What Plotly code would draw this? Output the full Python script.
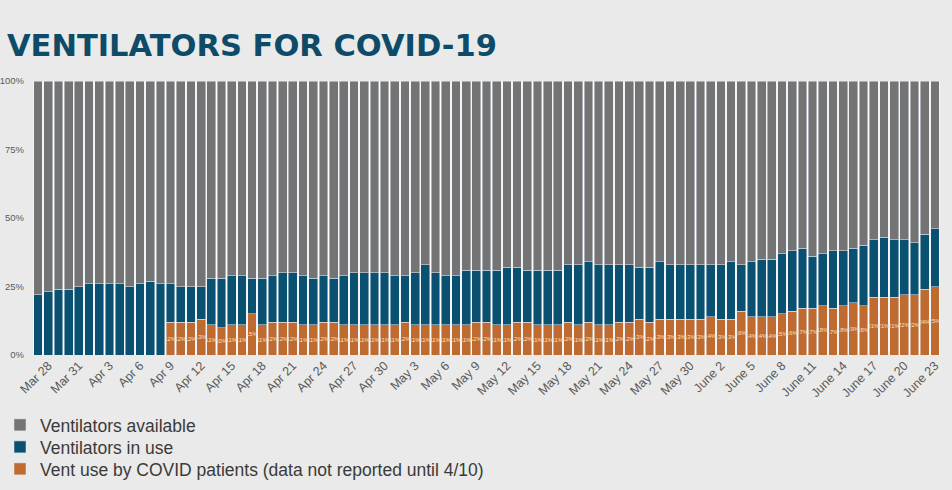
import plotly.graph_objects as go

dates = [
    "Mar 27", "Mar 28", "Mar 29", "Mar 30", "Mar 31",
    "Apr 1", "Apr 2", "Apr 3", "Apr 4", "Apr 5", "Apr 6", "Apr 7", "Apr 8", "Apr 9", "Apr 10",
    "Apr 11", "Apr 12", "Apr 13", "Apr 14", "Apr 15", "Apr 16", "Apr 17", "Apr 18", "Apr 19", "Apr 20",
    "Apr 21", "Apr 22", "Apr 23", "Apr 24", "Apr 25", "Apr 26", "Apr 27", "Apr 28", "Apr 29", "Apr 30",
    "May 1", "May 2", "May 3", "May 4", "May 5", "May 6", "May 7", "May 8", "May 9", "May 10",
    "May 11", "May 12", "May 13", "May 14", "May 15", "May 16", "May 17", "May 18", "May 19", "May 20",
    "May 21", "May 22", "May 23", "May 24", "May 25", "May 26", "May 27", "May 28", "May 29", "May 30",
    "May 31",
    "June 1", "June 2", "June 3", "June 4", "June 5", "June 6", "June 7", "June 8", "June 9", "June 10",
    "June 11", "June 12", "June 13", "June 14", "June 15", "June 16", "June 17", "June 18", "June 19",
    "June 20", "June 21", "June 22", "June 23",
]

# Total ventilators in use (% of all ventilators)
in_use = [
    22, 23, 24, 24, 25, 26, 26, 26, 26, 25, 26, 27, 26, 26, 25,
    25, 25, 28, 28, 29, 29, 28, 28, 29, 30, 30, 29, 28, 29, 28,
    29, 30, 30, 30, 30, 29, 29, 30, 33, 30, 29, 29, 31, 31, 31,
    31, 32, 32, 31, 31, 31, 31, 33, 33, 34, 33, 33, 33, 33,
    32, 32, 34, 33, 33, 33, 33, 33, 33, 34, 33, 34, 35, 35, 37,
    38, 39, 36, 37, 38, 38, 39, 40, 42, 43, 42, 42, 41, 44, 46,
]

# Ventilators used by COVID patients (% of all ventilators); not reported before Apr 9
covid = [None] * 13 + [
    12, 12, 12, 13, 11, 10, 11, 11, 15, 11, 12, 12, 12, 11, 11, 12, 12,
    11, 11, 11, 11, 11, 11,
    12,
    11, 11, 11, 11, 11, 11,
    12, 12,
    11, 11, 12, 12, 11, 11, 11, 12, 11, 12, 11, 11, 12, 12,
    13, 12,
    13, 13, 13, 13, 13, 14, 13, 13, 16, 14, 14, 14, 15,
    16, 17, 17, 18, 17, 18, 19, 18, 21, 21, 21, 22, 22, 24, 25,
]

tick_labels = [
    "Mar 28", "Mar 31", "Apr 3", "Apr 6", "Apr 9", "Apr 12", "Apr 15", "Apr 18", "Apr 21",
    "Apr 24", "Apr 27", "Apr 30", "May 3", "May 6", "May 9", "May 12", "May 15", "May 18",
    "May 21", "May 24", "May 27", "May 30", "June 2", "June 5", "June 8", "June 11",
    "June 14", "June 17", "June 20", "June 23",
]

series_names = [
    "Ventilators available",
    "Ventilators in use",
    "Vent use by COVID patients (data not reported until 4/10)",
]

GRAY = "#737473"
BLUE = "#0a5070"
ORANGE = "#bf6a2f"

covid_vals = [c if c is not None else 0 for c in covid]
in_use_other = [u - c for u, c in zip(in_use, covid_vals)]
available = [100 - u for u in in_use]
covid_text = [f"{c}%" if c is not None else "" for c in covid]

fig = go.Figure()
fig.add_trace(go.Bar(
    x=dates, y=covid, name=series_names[2], marker_color=ORANGE,
    text=covid_text, textposition="inside", insidetextanchor="middle",
    textangle=0, constraintext="none", cliponaxis=False,
    textfont=dict(size=6, color="#f6e2c8", family="Liberation Sans"),
    legend="legend3",
))
fig.add_trace(go.Bar(x=dates, y=in_use_other, name=series_names[1],
                     marker_color=BLUE, legend="legend2"))
fig.add_trace(go.Bar(x=dates, y=available, name=series_names[0],
                     marker_color=GRAY, legend="legend"))

H = 490.0
legend_common = dict(
    orientation="v",
    x=0.0, xanchor="left", xref="container",
    yanchor="middle", yref="container",
    font=dict(size=17.5, color="#3a3a3a", family="Liberation Sans"),
    bgcolor="rgba(0,0,0,0)",
)

fig.update_layout(
    width=952, height=490,
    barmode="stack", bargap=0.14,
    font=dict(family="Liberation Sans", color="#555555"),
    paper_bgcolor="#e9eae9",
    plot_bgcolor="#ffffff",
    margin=dict(l=33, r=12, t=81, b=135, autoexpand=False),
    title=dict(
        text="<b>VENTILATORS FOR COVID-19</b>",
        font=dict(family="DejaVu Sans", size=30.5, color="#0d4b68"),
        x=0.0, xanchor="left", xref="container",
        y=1 - 45 / H, yanchor="middle", yref="container",
        pad=dict(l=7),
    ),
    legend=dict(legend_common, y=1 - 425 / H),
    legend2=dict(legend_common, y=1 - 447 / H),
    legend3=dict(legend_common, y=1 - 469 / H),
    showlegend=True,
)

fig.update_xaxes(
    type="category",
    tickmode="array", tickvals=tick_labels, ticktext=tick_labels,
    tickangle=-45, tickfont=dict(size=12.5, color="#5a5a5a"),
    showgrid=False, zeroline=False, showline=False, ticks="",
)
fig.update_yaxes(
    range=[0, 100],
    tickmode="array", tickvals=[0, 25, 50, 75, 100],
    ticktext=["0%", "25%", "50%", "75%", "100%"],
    tickfont=dict(size=9.5, color="#5a5a5a"),
    showgrid=False, zeroline=False, showline=False, ticks="",
    ticklabelstandoff=8,
)

fig.write_html("out.html", config={"displayModeBar": False},
               post_script="document.body.style.margin='0';")
